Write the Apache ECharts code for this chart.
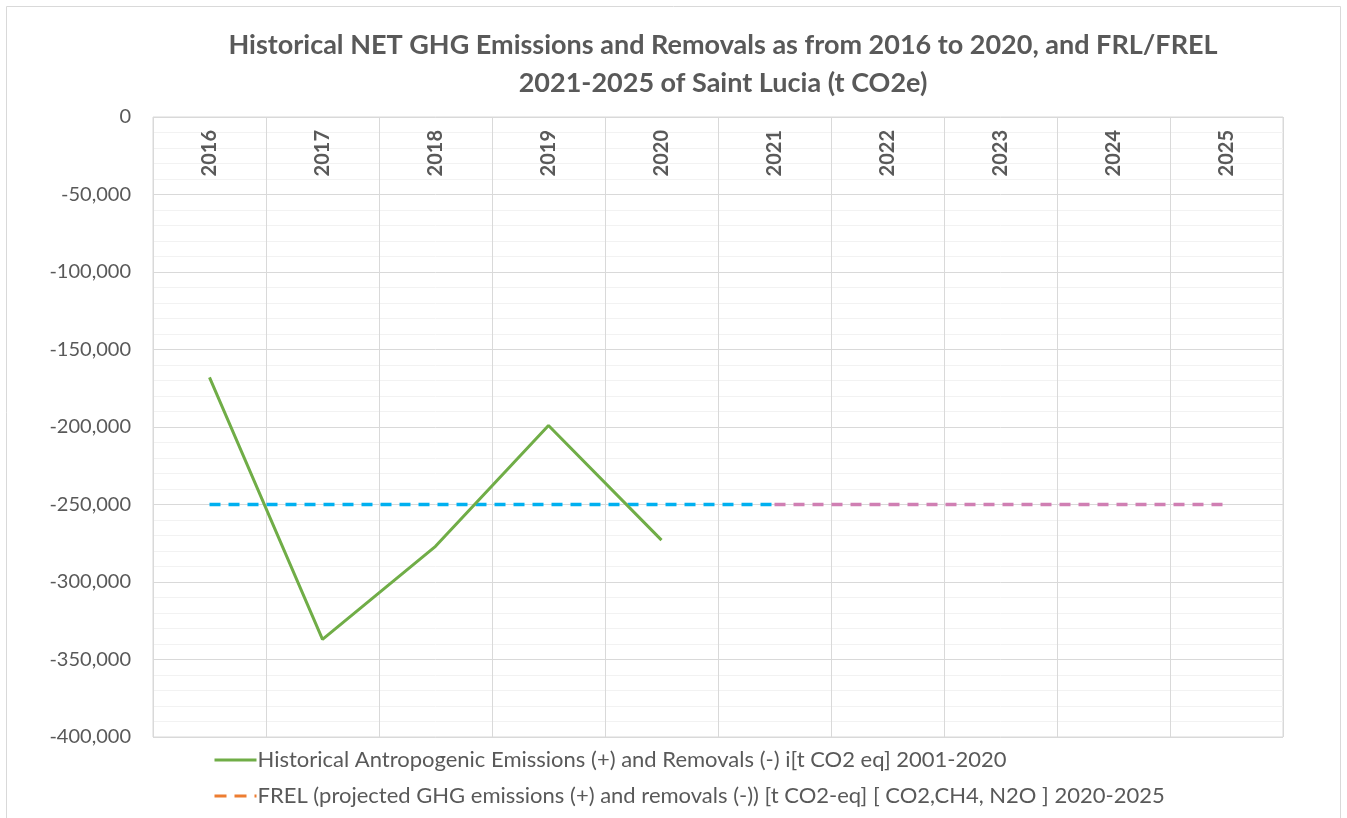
<!DOCTYPE html>
<html>
<head>
<meta charset="utf-8">
<title>Saint Lucia FRL/FREL</title>
<script src="https://cdn.jsdelivr.net/npm/echarts@6/dist/echarts.min.js"></script>
<style>
  html, body { margin: 0; padding: 0; background: #fff; }
  #chart { width: 1347px; height: 818px; }
</style>
</head>
<body>
<div id="chart"></div>
<script>
// categories + values
const years = ["2016", "2017", "2018", "2019", "2020", "2021", "2022", "2023", "2024", "2025"];
const historical = [-168000, -337000, -277000, -199000, -273000, null, null, null, null, null];
const frlHistoric = [-250000, -250000, -250000, -250000, -250000, -250000, null, null, null, null];
const frlProjected = [null, null, null, null, null, -250000, -250000, -250000, -250000, -250000];
const yTicks = { min: -400000, max: 0, step: 50000 };

const histName = "Historical Antropogenic Emissions (+) and Removals (-) i[t CO2 eq] 2001-2020";
const frelName = "FREL (projected GHG emissions (+) and removals (-)) [t CO2-eq] [ CO2,CH4, N2O ] 2020-2025";

const txt = "#595959";
const font = "Lato, 'Liberation Sans', sans-serif";

const chart = echarts.init(document.getElementById("chart"), null, { renderer: "canvas" });

chart.setOption({
  animation: false,
  textStyle: { fontFamily: font },
  graphic: [{
    type: "rect",
    shape: { x: 6.5, y: 6.5, width: 1334, height: 830 },
    style: { fill: "none", stroke: "#d9d9d9", lineWidth: 1 },
    silent: true
  }],
  title: {
    text: "Historical NET GHG Emissions and Removals as from 2016 to 2020, and FRL/FREL\n2021-2025 of Saint Lucia (t CO2e)",
    left: 718,
    top: 21,
    textAlign: "center",
    textStyle: {
      fontFamily: font,
      fontSize: 27,
      fontWeight: "bold",
      color: txt,
      lineHeight: 38
    }
  },
  legend: {
    orient: "vertical",
    left: 208,
    top: 744,
    itemGap: 14,
    itemWidth: 42,
    itemHeight: 12,
    data: [histName, frelName],
    itemStyle: { opacity: 0 },
    lineStyle: { width: 3 },
    textStyle: { fontFamily: font, fontSize: 22, color: txt, padding: [0, 0, 0, -4] }
  },
  grid: {
    left: 153,
    right: 64,
    top: 117,
    bottom: 81,
    show: true,
    borderColor: "#d9d9d9",
    borderWidth: 1
  },
  xAxis: {
    type: "category",
    position: "top",
    data: years,
    boundaryGap: true,
    axisLine: { show: false },
    axisTick: { show: false },
    axisLabel: {
      inside: true,
      rotate: 90,
      margin: 13,
      fontFamily: font,
      fontSize: 20,
      fontWeight: "bold",
      color: txt
    },
    splitLine: { show: true, lineStyle: { color: "#d9d9d9", width: 1 } }
  },
  yAxis: {
    type: "value",
    min: yTicks.min,
    max: yTicks.max,
    interval: yTicks.step,
    axisLine: { show: false },
    axisTick: { show: false },
    axisLabel: {
      margin: 22,
      fontFamily: font,
      fontSize: 20,
      color: txt,
      formatter: v => v.toLocaleString("en-US")
    },
    splitLine: { lineStyle: { color: "#d9d9d9", width: 1 } },
    minorTick: { show: false, splitNumber: 5 },
    minorSplitLine: { show: true, lineStyle: { color: "#f2f2f2", width: 1 } }
  },
  series: [
    {
      name: histName,
      type: "line",
      data: historical,
      symbol: "none",
      lineStyle: { color: "#70ad47", width: 3 },
      itemStyle: { color: "#70ad47" },
      z: 5
    },
    {
      name: frelName,
      type: "line",
      data: [],
      symbol: "none",
      lineStyle: { color: "#ed7d31", width: 3, type: [12, 8] },
      itemStyle: { color: "#ed7d31" }
    },
    {
      name: "FRL 2016-2021",
      type: "line",
      data: frlHistoric,
      symbol: "none",
      lineStyle: { color: "#00b0f0", width: 3.5, type: [11, 8] },
      itemStyle: { color: "#00b0f0" },
      z: 3
    },
    {
      name: "FREL 2021-2025",
      type: "line",
      data: frlProjected,
      symbol: "none",
      lineStyle: { color: "#d07fb3", width: 3.5, type: [11, 8] },
      itemStyle: { color: "#d07fb3" },
      z: 3
    }
  ]
});
</script>
</body>
</html>
